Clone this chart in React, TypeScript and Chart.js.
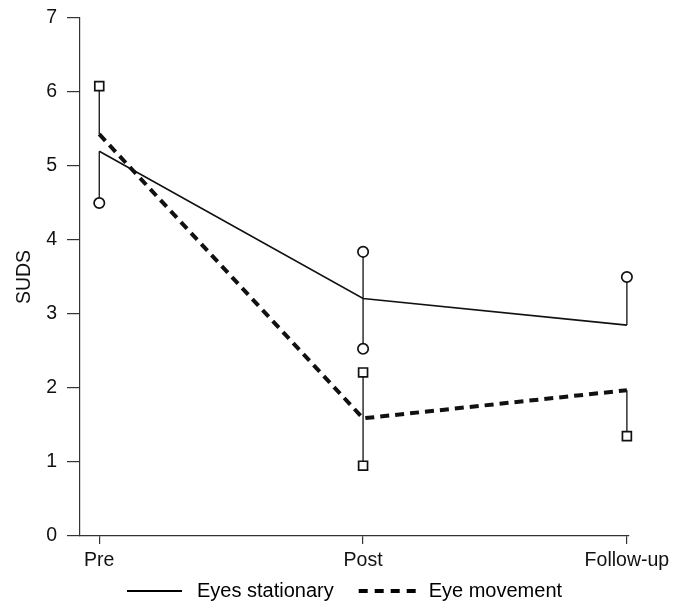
import React, { useEffect, useRef } from 'react';
import { Chart, registerables } from 'chart.js';

Chart.register(...registerables);

const categories = ['Pre', 'Post', 'Follow-up'];
const seriesNames = ['Eyes stationary', 'Eye movement'];
const stationaryMean = [5.2, 3.21, 2.85];
const movementMean = [5.43, 1.59, 1.97];
const stationaryUpper: (number | null)[] = [null, 3.84, 3.5];
const stationaryLower: (number | null)[] = [4.5, 2.53, null];
const movementUpper: (number | null)[] = [6.08, 2.21, null];
const movementLower: (number | null)[] = [null, 0.95, 1.35];
const yMin = 0;
const yMax = 7;

const FONT = "'Liberation Sans', Arial, sans-serif";
const INK = '#111';
const ICON_W = 82;
const ICON_PAD = 22;

function meanPoints(mean: number[]) {
  return mean.map((m, i) => ({ x: i, y: m }));
}

function errorPoints(mean: number[], upper: (number | null)[], lower: (number | null)[]) {
  const data: { x: number; y: number | null }[] = [];
  const flags: boolean[] = [];
  mean.forEach((m, i) => {
    if (i > 0) {
      data.push({ x: i - 0.5, y: null });
      flags.push(false);
    }
    data.push({ x: i, y: upper[i] ?? m });
    flags.push(upper[i] != null);
    data.push({ x: i, y: lower[i] ?? m });
    flags.push(lower[i] != null);
  });
  return { data, flags };
}

function legendLine(dash: number[], width: number, len: number) {
  const c = document.createElement('canvas');
  c.width = ICON_W;
  c.height = 8;
  const g = c.getContext('2d')!;
  g.strokeStyle = '#000';
  g.lineWidth = width;
  g.setLineDash(dash);
  g.beginPath();
  g.moveTo(ICON_PAD, 4);
  g.lineTo(ICON_PAD + len, 4);
  g.stroke();
  return c;
}

export default function App() {
  const ref = useRef<HTMLCanvasElement | null>(null);

  useEffect(() => {
    if (!ref.current) return;
    const stErr = errorPoints(stationaryMean, stationaryUpper, stationaryLower);
    const mvErr = errorPoints(movementMean, movementUpper, movementLower);
    const solidIcon = legendLine([], 2, 55);
    const dashIcon = legendLine([9, 7], 4, 57);

    const chart = new Chart(ref.current, {
      type: 'line',
      data: {
        datasets: [
          {
            label: 'stationary-error',
            data: stErr.data as any,
            borderColor: INK,
            borderWidth: 1.3,
            pointStyle: 'circle',
            pointRadius: stErr.flags.map((f) => (f ? 5.2 : 0)),
            pointBackgroundColor: '#fff',
            pointBorderColor: INK,
            pointBorderWidth: 1.7,
            spanGaps: false,
            tension: 0,
            clip: false as any,
          },
          {
            label: 'movement-error',
            data: mvErr.data as any,
            borderColor: INK,
            borderWidth: 1.3,
            pointStyle: 'rect',
            pointRadius: mvErr.flags.map((f) => (f ? 6.3 : 0)),
            pointBackgroundColor: '#fff',
            pointBorderColor: INK,
            pointBorderWidth: 1.7,
            spanGaps: false,
            tension: 0,
            clip: false as any,
          },
          {
            label: seriesNames[0],
            data: meanPoints(stationaryMean) as any,
            borderColor: INK,
            borderWidth: 1.6,
            pointRadius: 0,
            tension: 0,
            clip: false as any,
          },
          {
            label: seriesNames[1],
            data: meanPoints(movementMean) as any,
            borderColor: INK,
            borderWidth: 4,
            borderDash: [9, 6],
            pointRadius: 0,
            tension: 0,
            clip: false as any,
          },
        ],
      },
      options: {
        animation: false,
        responsive: true,
        maintainAspectRatio: false,
        layout: { padding: { left: 0, right: 10, top: 0, bottom: -8 } },
        plugins: {
          tooltip: { enabled: false },
          legend: {
            display: true,
            position: 'bottom',
            labels: {
              usePointStyle: true,
              pointStyleWidth: ICON_W,
              boxHeight: 20,
              padding: 3,
              color: INK,
              font: { family: FONT, size: 20 },
              generateLabels: () => [
                {
                  text: seriesNames[0],
                  pointStyle: solidIcon as any,
                  fillStyle: INK,
                  strokeStyle: INK,
                  lineWidth: 0,
                  hidden: false,
                  datasetIndex: 2,
                },
                {
                  text: seriesNames[1],
                  pointStyle: dashIcon as any,
                  fillStyle: INK,
                  strokeStyle: INK,
                  lineWidth: 0,
                  hidden: false,
                  datasetIndex: 3,
                },
              ],
            },
          },
        },
        scales: {
          x: {
            type: 'linear',
            min: -0.073,
            max: 2.008,
            afterBuildTicks: (s: any) => {
              s.ticks = categories.map((_, i) => ({ value: i }));
            },
            afterFit: (s: any) => {
              s.paddingRight = 48;
            },
            ticks: {
              callback: (v: any) => categories[Math.round(Number(v))] ?? '',
              color: INK,
              font: { family: FONT, size: 19.5 },
              padding: 5.3,
              maxRotation: 0,
              autoSkip: false,
            },
            grid: {
              display: true,
              drawOnChartArea: false,
              drawTicks: true,
              tickLength: 8,
              color: '#333',
              lineWidth: 1.2,
            },
            border: { display: true, color: '#333', width: 1.2 },
          },
          y: {
            type: 'linear',
            min: yMin,
            max: yMax,
            afterFit: (s: any) => {
              s.width = 80;
              s.paddingTop = 18;
            },
            ticks: {
              stepSize: 1,
              color: INK,
              font: { family: FONT, size: 19.5 },
              padding: 10,
            },
            grid: {
              display: true,
              drawOnChartArea: false,
              drawTicks: true,
              tickLength: 13,
              color: '#333',
              lineWidth: 1.2,
            },
            border: { display: true, color: '#333', width: 1.2 },
            title: {
              display: true,
              text: 'SUDS',
              color: INK,
              font: { family: FONT, size: 19.5 },
              padding: { top: 13, bottom: 0 },
            },
          },
        },
      },
    });
    return () => chart.destroy();
  }, []);

  return (
    <div style={{ position: 'fixed', left: 0, top: 0, width: 677, height: 603, background: '#fff' }}>
      <canvas ref={ref} />
    </div>
  );
}
